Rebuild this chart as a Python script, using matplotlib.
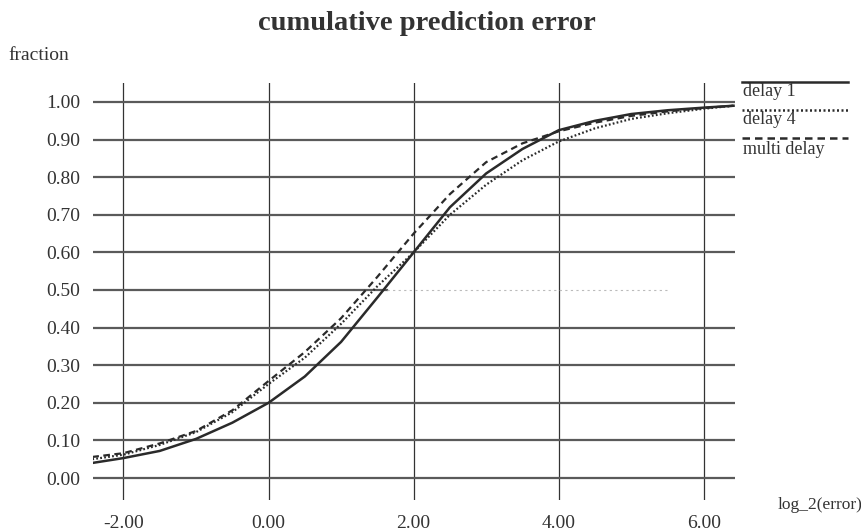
import numpy as np
import matplotlib
matplotlib.use("Agg")
import matplotlib.pyplot as plt
from matplotlib.lines import Line2D

plt.rcParams['font.family'] = ['Liberation Serif', 'DejaVu Serif']

# log2 of prediction error and cumulative fraction for each model
log_err = [-2.43, -2.0, -1.5, -1.0, -0.5, 0.0, 0.5, 1.0, 1.5, 2.0,
           2.5, 3.0, 3.5, 4.0, 4.5, 5.0, 5.5, 6.0, 6.41]
delay1 = [0.040, 0.053, 0.072, 0.104, 0.147, 0.200, 0.270, 0.362, 0.480, 0.600,
          0.720, 0.810, 0.875, 0.925, 0.950, 0.968, 0.978, 0.985, 0.990]
delay4 = [0.050, 0.062, 0.088, 0.122, 0.175, 0.250, 0.320, 0.410, 0.510, 0.600,
          0.700, 0.780, 0.845, 0.895, 0.930, 0.955, 0.970, 0.982, 0.990]
multi_delay = [0.056, 0.066, 0.092, 0.125, 0.180, 0.258, 0.335, 0.425, 0.535, 0.650,
               0.755, 0.840, 0.890, 0.922, 0.945, 0.963, 0.975, 0.984, 0.990]

x_ticks = [-2, 0, 2, 4, 6]
y_ticks = [i / 10 for i in range(11)]
series_names = ["delay 1", "delay 4", "multi delay"]

ink = "#2a2a2a"

fig = plt.figure(figsize=(8.62, 5.32), dpi=100)
ax = fig.add_axes([93 / 862, 1 - 500 / 532, (735 - 93) / 862, (500 - 83) / 532])
ax.set_xlim(-2.42, 6.43)
ax.set_ylim(-0.0585, 1.0505)

for s in ax.spines.values():
    s.set_visible(False)

# grid: vertical lines thin, horizontal lines heavier grey
for xv in x_ticks:
    ax.axvline(xv, color="#333333", lw=0.9, zorder=1)
for yv in y_ticks:
    if abs(yv - 0.5) < 1e-9:
        ax.plot([-2.42, 1.63], [yv, yv], color="#5a5a5a", lw=1.6, zorder=1)
        ax.plot([1.63, 5.54], [yv, yv], color="#bbbbbb", lw=0.8,
                linestyle=(0, (2, 3)), zorder=1)
    else:
        ax.axhline(yv, color="#5a5a5a", lw=1.6, zorder=1)

ax.plot(log_err, delay1, color=ink, lw=1.8, zorder=3)
ax.plot(log_err, delay4, color=ink, lw=1.6, linestyle=(0, (0.8, 1.0)), zorder=3)
ax.plot(log_err, multi_delay, color=ink, lw=1.6, linestyle=(0, (3, 2)), zorder=3)

ax.set_xticks(x_ticks)
ax.set_xticklabels([f"{v:.2f}" for v in x_ticks])
ax.set_yticks(y_ticks)
ax.set_yticklabels([f"{v:.2f}" for v in y_ticks])
ax.tick_params(axis="both", length=0, labelsize=14, colors="#333333")
ax.tick_params(axis="x", pad=11)
ax.tick_params(axis="y", pad=9)

fig.text(427 / 862, 1 - 24 / 532, "cumulative prediction error", ha="center", va="center",
         fontsize=20.5, fontweight="bold", color="#333333")
fig.text(8 / 862, 1 - 55 / 532, "fraction", ha="left", va="center", fontsize=14, color="#333333")
fig.text(778 / 862, 1 - 505 / 532, "log_2(error)", ha="left", va="center", fontsize=12.5,
         color="#333333")

# legend at the right: line sample above each name
styles = ["-", (0, (0.8, 1.0)), (0, (3, 2))]
line_y = [82, 110, 138]
text_y = [92, 120, 149]
for name, ls, ly, ty in zip(series_names, styles, line_y, text_y):
    fig.add_artist(Line2D([742 / 862, 848 / 862], [1 - ly / 532, 1 - ly / 532],
                          color=ink, lw=1.8, linestyle=ls))
    fig.text(743 / 862, 1 - ty / 532, name, ha="left", va="center", fontsize=13,
             color="#333333")

fig.savefig("out.png", dpi=100)
